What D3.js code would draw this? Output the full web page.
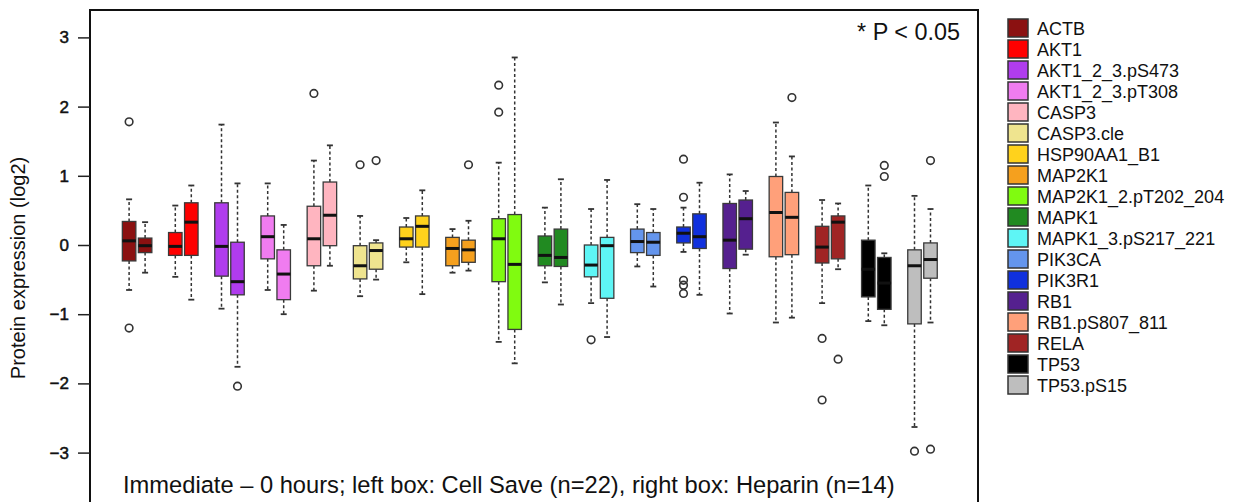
<!DOCTYPE html>
<html>
<head>
<meta charset="utf-8">
<script src="https://cdn.jsdelivr.net/npm/d3@7"></script>
<style>
  html, body { margin: 0; padding: 0; background: #fff; }
  svg { display: block; font-family: 'Liberation Sans', Arial, Helvetica, sans-serif; }
</style>
</head>
<body>
<div id="chart"></div>
<script>
// genes, in plotting / legend order
const genes = ['ACTB', 'AKT1', 'AKT1_2_3.pS473', 'AKT1_2_3.pT308', 'CASP3', 'CASP3.cle',
  'HSP90AA1_B1', 'MAP2K1', 'MAP2K1_2.pT202_204', 'MAPK1', 'MAPK1_3.pS217_221', 'PIK3CA',
  'PIK3R1', 'RB1', 'RB1.pS807_811', 'RELA', 'TP53', 'TP53.pS15'];

// box stats [lower whisker, q1, median, q3, upper whisker]
const cellSaveStats = [
  [-0.65, -0.23, 0.06, 0.34, 0.66],
  [-0.46, -0.15, -0.02, 0.18, 0.57],
  [-0.92, -0.45, -0.02, 0.61, 1.74],
  [-0.65, -0.20, 0.12, 0.42, 0.89],
  [-0.66, -0.30, 0.09, 0.56, 1.22],
  [-0.74, -0.49, -0.30, -0.01, 0.42],
  [-0.25, -0.03, 0.09, 0.26, 0.39],
  [-0.40, -0.30, -0.05, 0.11, 0.23],
  [-1.40, -0.53, 0.09, 0.38, 1.19],
  [-0.54, -0.30, -0.15, 0.13, 0.54],
  [-0.84, -0.46, -0.29, 0.00, 0.52],
  [-0.31, -0.11, 0.05, 0.23, 0.59],
  [-0.10, 0.03, 0.17, 0.26, 0.54],
  [-0.99, -0.34, 0.07, 0.60, 1.02],
  [-1.12, -0.17, 0.47, 0.99, 1.77],
  [-0.84, -0.26, -0.03, 0.27, 0.65],
  [-1.10, -0.75, -0.35, 0.07, 0.86],
  [-2.63, -1.14, -0.30, -0.07, 0.71]
];

const heparinStats = [
  [-0.40, -0.11, -0.01, 0.10, 0.33],
  [-0.79, -0.15, 0.33, 0.61, 0.86],
  [-1.76, -0.72, -0.53, 0.04, 0.89],
  [-1.00, -0.79, -0.42, -0.07, 0.29],
  [-0.30, -0.01, 0.43, 0.91, 1.44],
  [-0.50, -0.35, -0.08, 0.03, 0.07],
  [-0.71, -0.03, 0.27, 0.42, 0.79],
  [-0.37, -0.25, -0.07, 0.07, 0.35],
  [-1.71, -1.22, -0.28, 0.44, 2.71],
  [-0.86, -0.31, -0.18, 0.23, 0.95],
  [-1.33, -0.77, -0.01, 0.11, 0.94],
  [-0.60, -0.15, 0.04, 0.18, 0.52],
  [-0.72, -0.05, 0.12, 0.45, 0.90],
  [-0.14, -0.06, 0.38, 0.65, 0.78],
  [-1.05, -0.14, 0.40, 0.76, 1.28],
  [-0.35, -0.20, 0.33, 0.42, 0.60],
  [-1.16, -0.93, -0.55, -0.18, -0.12],
  [-1.12, -0.48, -0.21, 0.03, 0.52]
];

const cellSaveOutliers = [
  [1.78, -1.20], [], [], [], [2.19], [1.16], [], [], [2.31, 1.92], [], [-1.37], [],
  [1.24, 0.69, -0.51, -0.58, -0.70], [], [], [-1.35, -2.24], [], [-2.98]
];

const heparinOutliers = [
  [], [], [-2.04], [], [], [1.22], [], [1.16], [], [], [], [], [], [], [2.13],
  [-1.65], [1.15, 0.99], [1.22, -2.95]
];

const yTicks = [-3, -2, -1, 0, 1, 2, 3];
const series = ['Cell Save', 'Heparin'];

const colors = ['#8b1111', '#fe0000', '#b03cee', '#f07cf0', '#ffb5c0', '#efe48f',
  '#ffd21c', '#f5a01e', '#80fb10', '#218a21', '#5ef5f5', '#6495ed',
  '#1030dd', '#55208f', '#ffa07a', '#a02424', '#000000', '#bebebe'];

const width = 1235;
const height = 502;

const svg = d3.select('#chart').append('svg')
  .attr('width', width)
  .attr('height', height);

const x = d3.scaleBand()
  .domain(genes)
  .range([114, 945.6])
  .paddingInner(0)
  .paddingOuter(0);

const xSub = d3.scaleBand()
  .domain(series)
  .range([x.bandwidth() / 2 - 16, x.bandwidth() / 2 + 16]);

const y = d3.scaleLinear()
  .domain([-3, 3])
  .range([452.6, 37.4]);

const boxWidth = 13.5;
const capWidth = 6;

// frame
svg.append('rect')
  .attr('x', 90)
  .attr('y', 10)
  .attr('width', 888)
  .attr('height', 520)
  .attr('fill', 'none')
  .attr('stroke', '#111')
  .attr('stroke-width', 2);

// y axis
const yAxis = svg.append('g')
  .attr('transform', 'translate(90,0)')
  .call(d3.axisLeft(y).tickValues(yTicks).tickSize(12).tickPadding(9).tickFormat(d3.format('d')));

yAxis
  .attr('font-size', 17)
  .attr('font-family', "'Liberation Sans', Arial, sans-serif");
yAxis.select('.domain').remove();
yAxis.selectAll('.tick line').attr('stroke', '#222').attr('stroke-width', 1.5);
yAxis.selectAll('.tick text')
  .attr('fill', '#111')
  .attr('stroke', '#111')
  .attr('stroke-width', 0.5);

svg.append('text')
  .attr('transform', 'translate(25,268) rotate(-90)')
  .attr('text-anchor', 'middle')
  .attr('font-size', 20)
  .attr('fill', '#111')
  .text('Protein expression (log2)');

// boxes
const boxes = [];
genes.forEach((gene, i) => {
  boxes.push({ gene, series: series[0], stats: cellSaveStats[i], outliers: cellSaveOutliers[i], color: colors[i] });
  boxes.push({ gene, series: series[1], stats: heparinStats[i], outliers: heparinOutliers[i], color: colors[i] });
});

const cx = d => x(d.gene) + xSub(d.series) + xSub.bandwidth() / 2;

const box = svg.append('g')
  .selectAll('g')
  .data(boxes)
  .join('g');

// whiskers (dashed)
box.append('line')
  .attr('x1', cx).attr('x2', cx)
  .attr('y1', d => y(d.stats[3])).attr('y2', d => y(d.stats[4]))
  .attr('stroke', '#333').attr('stroke-width', 1.5).attr('stroke-dasharray', '3,2.5');

box.append('line')
  .attr('x1', cx).attr('x2', cx)
  .attr('y1', d => y(d.stats[1])).attr('y2', d => y(d.stats[0]))
  .attr('stroke', '#333').attr('stroke-width', 1.5).attr('stroke-dasharray', '3,2.5');

// staples
[0, 4].forEach(k => {
  box.append('line')
    .attr('x1', d => cx(d) - capWidth / 2).attr('x2', d => cx(d) + capWidth / 2)
    .attr('y1', d => y(d.stats[k])).attr('y2', d => y(d.stats[k]))
    .attr('stroke', '#333').attr('stroke-width', 1.8);
});

box.append('rect')
  .attr('x', d => cx(d) - boxWidth / 2)
  .attr('width', boxWidth)
  .attr('y', d => y(d.stats[3]))
  .attr('height', d => y(d.stats[1]) - y(d.stats[3]))
  .attr('fill', d => d.color)
  .attr('stroke', '#3a3a3a')
  .attr('stroke-width', 1.3);

box.append('line')
  .attr('x1', d => cx(d) - boxWidth / 2).attr('x2', d => cx(d) + boxWidth / 2)
  .attr('y1', d => y(d.stats[2])).attr('y2', d => y(d.stats[2]))
  .attr('stroke', '#111').attr('stroke-width', 3);

box.selectAll('circle')
  .data(d => d.outliers.map(v => ({ v, x: cx(d) })))
  .join('circle')
  .attr('cx', d => d.x)
  .attr('cy', d => y(d.v))
  .attr('r', 3.8)
  .attr('fill', 'none')
  .attr('stroke', '#333')
  .attr('stroke-width', 1.6);

// annotations
svg.append('text')
  .attr('x', 960)
  .attr('y', 40)
  .attr('text-anchor', 'end')
  .attr('font-size', 23.4)
  .attr('fill', '#111')
  .text('* P < 0.05');

svg.append('text')
  .attr('x', 123)
  .attr('y', 493)
  .attr('font-size', 23.7)
  .attr('fill', '#111')
  .text('Immediate \u2013 0 hours; left box: Cell Save (n=22), right box: Heparin (n=14)');

// legend
const legend = svg.append('g')
  .selectAll('g')
  .data(genes)
  .join('g')
  .attr('transform', (d, i) => `translate(1008,${28 + i * 21})`);

legend.append('rect')
  .attr('x', 0)
  .attr('y', -9)
  .attr('width', 20)
  .attr('height', 18)
  .attr('fill', (d, i) => colors[i])
  .attr('stroke', '#333')
  .attr('stroke-width', 1.5);

legend.append('text')
  .attr('x', 29)
  .attr('y', 6.5)
  .attr('font-size', 18)
  .attr('fill', '#111')
  .text(d => d);
</script>
</body>
</html>
